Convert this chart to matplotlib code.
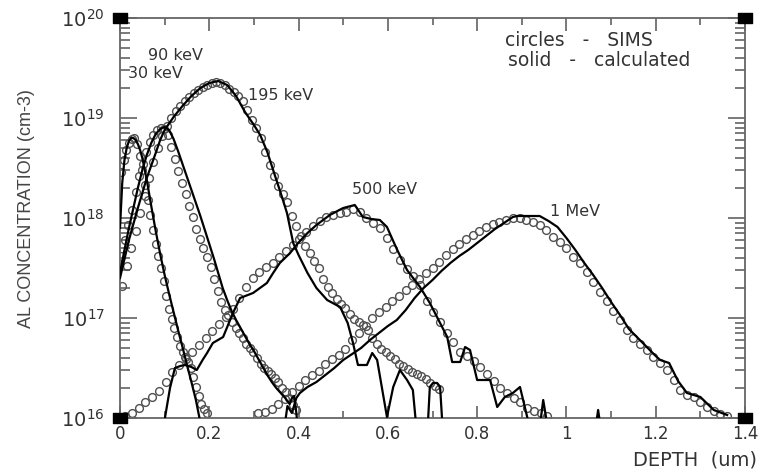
import numpy as np
import matplotlib
matplotlib.use("Agg")
import matplotlib.pyplot as plt
from matplotlib.path import Path
from matplotlib.ticker import FixedLocator, FixedFormatter, NullFormatter

plt.rcParams['font.family'] = ['DejaVu Sans']

# ---------------- SIMS profiles (circles) ----------------
# uniform depth grid (um): start, step ; values are log10 of Al concentration (cm-3)
sims_30_start, sims_30_step = 0.002, 0.006
sims_30_log = [18.46, 18.58, 18.68, 18.75, 18.79, 18.80, 18.74, 18.62, 18.48, 18.33,
               18.18, 18.03, 17.88, 17.74, 17.62, 17.50, 17.37, 17.22, 17.09, 16.99,
               16.90, 16.81, 16.72, 16.66, 16.61, 16.56, 16.50, 16.41, 16.31, 16.22,
               16.14, 16.09, 16.05]

sims_90_start, sims_90_step = 0.003, 0.008
sims_90_log = [17.62, 17.78, 17.93, 18.08, 18.26, 18.42, 18.54, 18.66, 18.76, 18.83,
               18.88, 18.90, 18.89, 18.83, 18.71, 18.59, 18.47, 18.35, 18.24, 18.12,
               18.01, 17.89, 17.79, 17.70, 17.61, 17.51, 17.39, 17.27, 17.16, 17.08,
               17.03, 16.96, 16.90, 16.85, 16.80, 16.74, 16.70, 16.66, 16.60, 16.54,
               16.50, 16.47, 16.44, 16.40, 16.36, 16.30, 16.26, 16.20, 16.13, 16.08]

sims_195_start, sims_195_step = 0.005, 0.010
sims_195_log = [17.32, 17.52, 17.70, 17.87, 18.05, 18.22, 18.40, 18.56, 18.70, 18.82,
                18.92, 19.00, 19.07, 19.12, 19.17, 19.21, 19.25, 19.28, 19.31, 19.33,
                19.35, 19.36, 19.35, 19.33, 19.29, 19.26, 19.22, 19.17, 19.08, 18.98,
                18.90, 18.80, 18.66, 18.53, 18.42, 18.32, 18.24, 18.16, 18.02, 17.92,
                17.82, 17.72, 17.65, 17.57, 17.50, 17.39, 17.31, 17.25, 17.19, 17.14,
                17.10, 17.04, 16.99, 16.96, 16.93, 16.88, 16.80, 16.74, 16.69, 16.66,
                16.62, 16.59, 16.54, 16.52, 16.49, 16.46, 16.44, 16.42, 16.39, 16.35,
                16.32, 16.29]

sims_500_start, sims_500_step = 0.012, 0.015
sims_500_log = [16.02, 16.05, 16.10, 16.16, 16.21, 16.27, 16.36, 16.46, 16.53, 16.59,
                16.66, 16.73, 16.80, 16.87, 16.94, 17.01, 17.09, 17.20, 17.31, 17.40,
                17.46, 17.51, 17.55, 17.61, 17.67, 17.73, 17.79, 17.86, 17.92, 17.97,
                18.01, 18.03, 18.05, 18.06, 18.09, 18.06, 18.00, 17.95, 17.90, 17.80,
                17.69, 17.58, 17.49, 17.42, 17.33, 17.17, 17.06, 16.96, 16.85, 16.76,
                16.66, 16.62, 16.57, 16.51, 16.44, 16.37, 16.30, 16.25, 16.20, 16.16,
                16.10, 16.07, 16.05, 16.02]

sims_1000_start, sims_1000_step = 0.310, 0.015
sims_1000_log = [16.05, 16.06, 16.09, 16.14, 16.19, 16.26, 16.32, 16.38, 16.43, 16.47,
                 16.54, 16.59, 16.63, 16.69, 16.78, 16.85, 16.92, 17.00, 17.06, 17.11,
                 17.17, 17.22, 17.28, 17.33, 17.39, 17.45, 17.50, 17.56, 17.63, 17.69,
                 17.74, 17.79, 17.83, 17.87, 17.91, 17.94, 17.96, 17.98, 18.00, 18.00,
                 17.98, 17.96, 17.93, 17.88, 17.81, 17.76, 17.70, 17.61, 17.55, 17.46,
                 17.36, 17.26, 17.17, 17.07, 16.98, 16.88, 16.80, 16.74, 16.68, 16.61,
                 16.55, 16.48, 16.38, 16.28, 16.23, 16.21, 16.16, 16.11, 16.07, 16.04,
                 16.02]

# ---------------- calculated profiles (solid) ----------------
calc_30_depth = [0.0, 0.005, 0.010, 0.015, 0.020, 0.025, 0.030, 0.035, 0.040, 0.045,
                 0.050, 0.060, 0.070, 0.080, 0.090, 0.100, 0.110, 0.120, 0.130, 0.140,
                 0.150, 0.160, 0.170, 0.178, 0.185]
calc_30_log = [17.90, 18.35, 18.58, 18.70, 18.77, 18.80, 18.80, 18.78, 18.74, 18.68,
               18.60, 18.38, 18.12, 17.87, 17.64, 17.43, 17.24, 17.06, 16.88, 16.71,
               16.53, 16.36, 16.18, 16.00, 15.80]

calc_90_depth = [0.0, 0.01, 0.02, 0.03, 0.04, 0.05, 0.06, 0.07, 0.08, 0.09,
                 0.10, 0.11, 0.12, 0.13, 0.14, 0.15, 0.16, 0.17, 0.18, 0.19,
                 0.20, 0.21, 0.22, 0.23, 0.24, 0.25, 0.26, 0.27, 0.28, 0.29,
                 0.30, 0.31, 0.32, 0.33, 0.34, 0.35, 0.36, 0.37, 0.38, 0.385,
                 0.39, 0.395, 0.40]
calc_90_log = [17.45, 17.68, 17.90, 18.10, 18.30, 18.48, 18.63, 18.75, 18.84, 18.89,
               18.91, 18.88, 18.79, 18.67, 18.54, 18.41, 18.28, 18.15, 18.02, 17.88,
               17.74, 17.60, 17.45, 17.30, 17.18, 17.07, 16.98, 16.90, 16.82, 16.74,
               16.67, 16.59, 16.51, 16.43, 16.36, 16.30, 16.25, 16.20, 16.14, 16.20,
               16.22, 16.05, 15.80]

calc_195_depth = [0.0, 0.02, 0.04, 0.06, 0.08, 0.09, 0.10, 0.12, 0.14, 0.16,
                  0.18, 0.20, 0.22, 0.24, 0.26, 0.28, 0.30, 0.314, 0.33, 0.343,
                  0.36, 0.374, 0.388, 0.40, 0.42, 0.44, 0.464, 0.493, 0.51, 0.522,
                  0.533, 0.553, 0.565, 0.576, 0.598, 0.612, 0.627, 0.643, 0.656, 0.666,
                  0.688, 0.694, 0.701, 0.710, 0.717, 0.724]
calc_195_log = [17.40, 17.78, 18.10, 18.40, 18.65, 18.78, 18.88, 19.01, 19.12, 19.22,
                19.30, 19.35, 19.37, 19.33, 19.22, 19.06, 18.93, 18.83, 18.66, 18.48,
                18.25, 18.05, 17.75, 17.63, 17.45, 17.30, 17.18, 17.11, 16.95, 16.75,
                16.53, 16.53, 16.65, 16.58, 16.01, 16.31, 16.48, 16.38, 16.28, 15.80,
                15.80, 16.31, 16.35, 16.35, 16.31, 15.80]

calc_500_depth = [0.098, 0.101, 0.112, 0.123, 0.135, 0.146, 0.160, 0.172, 0.185, 0.195,
                  0.208, 0.231, 0.253, 0.269, 0.298, 0.329, 0.343, 0.358, 0.381, 0.399,
                  0.420, 0.440, 0.470, 0.500, 0.526, 0.544, 0.563, 0.582, 0.598, 0.621,
                  0.643, 0.672, 0.694, 0.717, 0.733, 0.744, 0.762, 0.773, 0.784, 0.800,
                  0.829, 0.845, 0.862, 0.880, 0.896, 0.918, 0.940, 0.948, 0.962, 1.062,
                  1.071, 1.080]
calc_500_log = [15.80, 16.01, 16.30, 16.50, 16.52, 16.53, 16.51, 16.48, 16.58, 16.65,
                16.75, 16.81, 17.05, 17.20, 17.25, 17.35, 17.45, 17.55, 17.65, 17.75,
                17.85, 17.93, 18.03, 18.10, 18.13, 18.01, 17.99, 17.98, 17.91, 17.68,
                17.48, 17.31, 17.15, 16.95, 16.81, 16.56, 16.56, 16.71, 16.68, 16.38,
                16.38, 16.11, 16.21, 16.25, 16.31, 15.90, 15.90, 16.18, 15.80, 15.80,
                16.08, 15.80]

calc_1000_depth = [0.365, 0.375, 0.385, 0.395, 0.403, 0.42, 0.44, 0.46, 0.48, 0.50,
                   0.52, 0.54, 0.56, 0.58, 0.60, 0.62, 0.64, 0.66, 0.68, 0.70,
                   0.72, 0.74, 0.76, 0.78, 0.80, 0.82, 0.84, 0.86, 0.88, 0.89,
                   0.94, 0.96, 0.98, 1.00, 1.02, 1.04, 1.06, 1.08, 1.10, 1.12,
                   1.14, 1.16, 1.18, 1.20, 1.21, 1.23, 1.25, 1.27, 1.30, 1.33,
                   1.36]
calc_1000_log = [15.80, 16.12, 16.05, 16.20, 16.25, 16.31, 16.36, 16.43, 16.50, 16.58,
                 16.64, 16.70, 16.78, 16.85, 16.92, 16.98, 17.08, 17.20, 17.30, 17.38,
                 17.47, 17.55, 17.62, 17.68, 17.75, 17.82, 17.89, 17.95, 18.01, 18.02,
                 18.02, 17.97, 17.91, 17.80, 17.68, 17.55, 17.43, 17.30, 17.16, 17.03,
                 16.89, 16.80, 16.71, 16.62, 16.58, 16.55, 16.37, 16.25, 16.21, 16.08,
                 16.03]

energy_labels = ["30 keV", "90 keV", "195 keV", "500 keV", "1 MeV"]

x_tick_values = [0, 0.2, 0.4, 0.6, 0.8, 1.0, 1.2, 1.4]
x_tick_labels = ["0", "0.2", "0.4", "0.6", "0.8", "1", "1.2", "1.4"]
y_tick_exponents = [16, 17, 18, 19, 20]


def sims_depth(start, step, values):
    return start + step * np.arange(len(values))


sims_sets = [
    (sims_30_start, sims_30_step, sims_30_log),
    (sims_90_start, sims_90_step, sims_90_log),
    (sims_195_start, sims_195_step, sims_195_log),
    (sims_500_start, sims_500_step, sims_500_log),
    (sims_1000_start, sims_1000_step, sims_1000_log),
]
calc_sets = [
    (calc_30_depth, calc_30_log),
    (calc_90_depth, calc_90_log),
    (calc_195_depth, calc_195_log),
    (calc_500_depth, calc_500_log),
    (calc_1000_depth, calc_1000_log),
]

fig = plt.figure(figsize=(7.66, 4.70), dpi=100)
ax = fig.add_axes([120 / 766, 52 / 470, 625 / 766, 400 / 470])

for start, step, logs in sims_sets:
    ax.plot(sims_depth(start, step, logs), 10.0 ** np.asarray(logs),
            ls='none', marker='o', ms=5.6, mfc='none', mec='#505050', mew=1.0,
            zorder=2)

for depth, logs in calc_sets:
    ax.plot(depth, 10.0 ** np.asarray(logs), color='black', lw=1.6, zorder=3)

ax.set_yscale('log')
ax.set_xlim(0, 1.4)
ax.set_ylim(1e16, 1e20)

text_color = '#333333'
ax.xaxis.set_major_locator(FixedLocator(x_tick_values))
ax.xaxis.set_major_formatter(FixedFormatter(x_tick_labels))
ax.xaxis.set_minor_locator(FixedLocator(np.arange(0.1, 1.4, 0.2)))
ax.yaxis.set_major_locator(FixedLocator([10.0 ** e for e in y_tick_exponents]))
ax.yaxis.set_major_formatter(FixedFormatter(
    [r'$\mathregular{10^{%d}}$' % e for e in y_tick_exponents]))
ax.yaxis.set_minor_locator(FixedLocator(
    [m * 10.0 ** e for e in y_tick_exponents[:-1] for m in range(2, 10)]))
ax.yaxis.set_minor_formatter(NullFormatter())

ax.tick_params(which='both', direction='in', top=True, right=True,
               color='#555555', width=1.1)
ax.tick_params(axis='x', which='major', length=9, labelsize=12, pad=5,
               labelcolor=text_color)
ax.tick_params(axis='x', which='minor', length=5)
ax.tick_params(axis='y', which='major', length=12, labelsize=14, pad=11,
               labelcolor=text_color)
ax.tick_params(axis='y', which='minor', length=7)

for sp in ax.spines.values():
    sp.set_color('#666666')
    sp.set_linewidth(1.3)

# filled corner blocks
corner = Path([(-0.75, -0.5), (0.75, -0.5), (0.75, 0.5), (-0.75, 0.5), (-0.75, -0.5)],
              [Path.MOVETO, Path.LINETO, Path.LINETO, Path.LINETO, Path.CLOSEPOLY])
ax.plot([0, 1, 0, 1], [0, 0, 1, 1], transform=ax.transAxes, ls='none',
        marker=corner, ms=10, color='black', clip_on=False, zorder=6)

# energy labels
label_pos = [(0.018, 19.44), (0.063, 19.63), (0.287, 19.23), (0.52, 18.28), (0.963, 18.07)]
for text, (x, lg) in zip(energy_labels, label_pos):
    ax.text(x, 10.0 ** lg, text, fontsize=11.5, color=text_color,
            ha='left', va='center', zorder=4)

ax.text(0.616, 0.945, "circles   -   SIMS", transform=ax.transAxes,
        fontsize=13.5, color=text_color, ha='left', va='center')
ax.text(0.621, 0.895, "solid   -   calculated", transform=ax.transAxes,
        fontsize=13.5, color=text_color, ha='left', va='center')

ax.set_ylabel("AL CONCENTRATION (cm-3)", family=['Liberation Sans', 'DejaVu Sans'],
              fontsize=13, color='#444444')
ax.yaxis.set_label_coords(-0.136, 0.5225)
ax.set_xlabel("DEPTH  (um)", fontsize=14, color=text_color, ha='right')
ax.xaxis.set_label_coords(1.019, -0.0825)

fig.savefig("out.png", dpi=100, facecolor='white')
